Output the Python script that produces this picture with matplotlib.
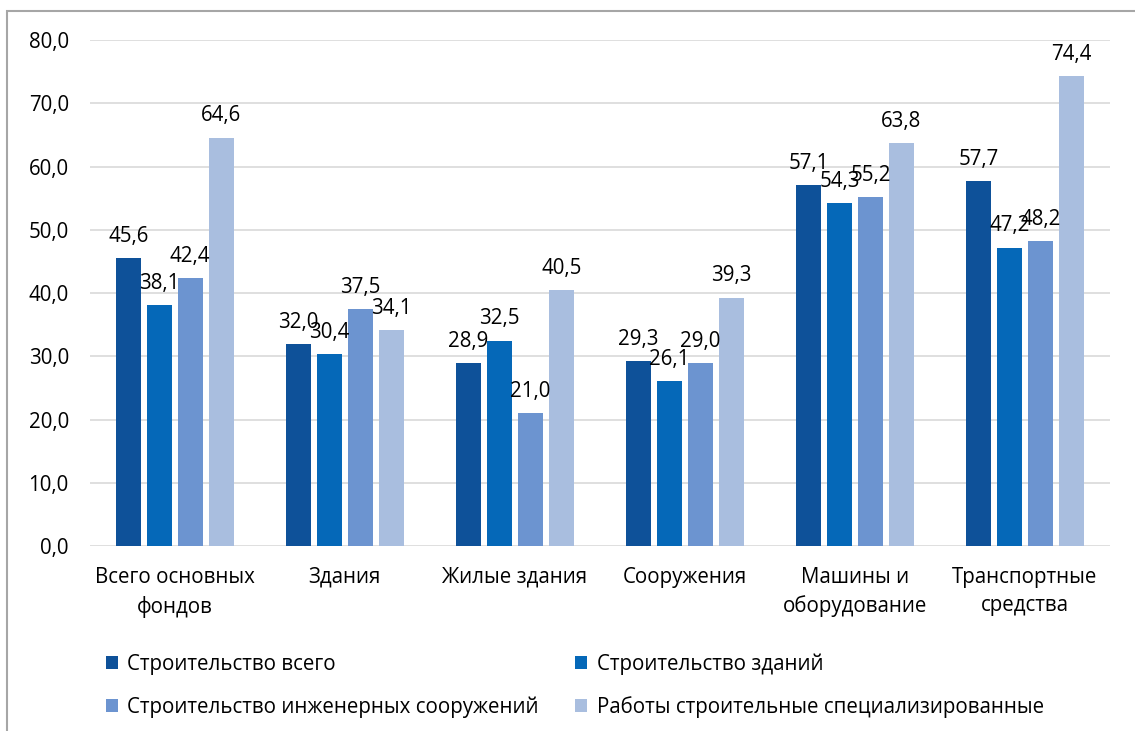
import numpy as np
import matplotlib
matplotlib.use('Agg')
import matplotlib.pyplot as plt
from matplotlib.patches import Rectangle

categories = ['Всего основных\nфондов', 'Здания', 'Жилые здания', 'Сооружения',
              'Машины и\nоборудование', 'Транспортные\nсредства']
series_names = ['Строительство всего', 'Строительство зданий',
                'Строительство инженерных сооружений',
                'Работы строительные специализированные']
s_total = [45.6, 32.0, 28.9, 29.3, 57.1, 57.7]
s_build = [38.1, 30.4, 32.5, 26.1, 54.3, 47.2]
s_eng = [42.4, 37.5, 21.0, 29.0, 55.2, 48.2]
s_spec = [64.6, 34.1, 40.5, 39.3, 63.8, 74.4]
colors = ['#0E5199', '#0568B8', '#6C94D0', '#A9BEDF']

plt.rcParams['font.family'] = ['Open Sans', 'DejaVu Sans']
fs = 14.8
plt.rcParams['font.size'] = fs

fig = plt.figure(figsize=(11.35, 7.31), dpi=100)
ax = fig.add_axes([0.079, 0.253, 0.899, 0.692])

x = np.arange(len(categories))
width = 0.147
step = 0.182
handles = []
for i, (vals, name) in enumerate(zip([s_total, s_build, s_eng, s_spec], series_names)):
    pos = x + (i - 1.5) * step
    bars = ax.bar(pos, vals, width, color=colors[i], label=name, zorder=3)
    handles.append(bars)
    for p, v in zip(pos, vals):
        ax.annotate(f'{v:.1f}'.replace('.', ','), (p, v), xytext=(0, 8),
                    textcoords='offset points', ha='center', va='bottom',
                    fontsize=fs, color='#000000', zorder=4)

ax.set_ylim(0, 80)
ax.set_xlim(-0.5, len(categories) - 0.5)
ax.set_yticks(np.arange(0, 81, 10))
ax.set_yticklabels([f'{v:.1f}'.replace('.', ',') for v in np.arange(0, 81, 10)])
ax.set_xticks(x)
ax.set_xticklabels(categories, linespacing=1.45)
ax.grid(axis='y', color='#D9D9D9', linewidth=1.2, zorder=0)
for s in ax.spines.values():
    s.set_visible(False)
ax.tick_params(axis='x', length=0, pad=15)
ax.tick_params(axis='y', length=0, pad=15)

order = [0, 2, 1, 3]
fig.legend([handles[i] for i in order], [series_names[i] for i in order],
           loc='upper left', bbox_to_anchor=(0.077, 0.132), ncol=2, frameon=False,
           handlelength=0.6, handleheight=0.6, handletextpad=0.45,
           columnspacing=1.75, labelspacing=1.05, fontsize=fs)

fig.patches.append(Rectangle((7 / 1135, -0.1), 1.2, 1.1 - 11 / 731,
                             transform=fig.transFigure, fill=False,
                             edgecolor='#A6A6A6', linewidth=1.5))

fig.savefig('out.png', dpi=100)
